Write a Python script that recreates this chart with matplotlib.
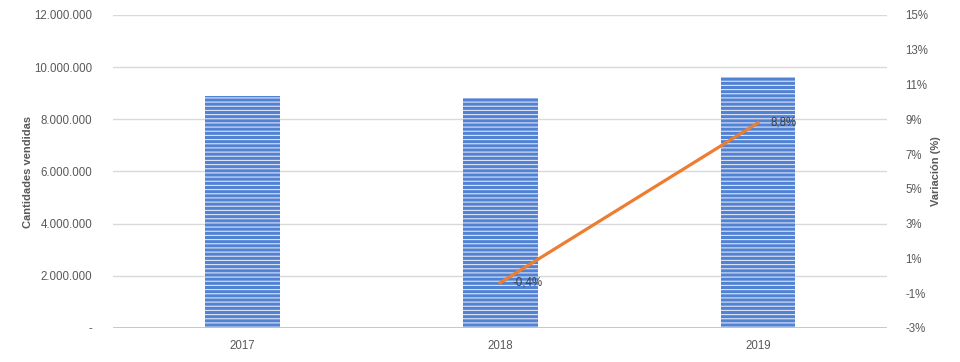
import matplotlib
matplotlib.use('Agg')
import matplotlib.pyplot as plt
from matplotlib.ticker import FuncFormatter, FixedLocator

# data
years = ['2017', '2018', '2019']
units_sold = [8890000, 8820000, 9620000]
change_years = ['2018', '2019']
change_pct = [-0.4, 8.8]

left_ticks = [0, 2000000, 4000000, 6000000, 8000000, 10000000, 12000000]
right_ticks = [-3, -1, 1, 3, 5, 7, 9, 11, 13, 15]

plt.rcParams['font.family'] = ['Liberation Sans', 'DejaVu Sans']
plt.rcParams['hatch.linewidth'] = 0.8

gray = '#595959'

fig = plt.figure(figsize=(9.6, 3.62), dpi=100)
ax = fig.add_axes([0.118, 0.094, 0.806, 0.8646])

x = list(range(len(years)))
ax.bar(x, units_sold, width=0.29, color='#5282d4', edgecolor='#dde5f5',
       linewidth=0, hatch='----', zorder=2)

ax.set_xlim(-0.5, len(years) - 0.5)
ax.set_ylim(0, 12000000)
ax.yaxis.set_major_locator(FixedLocator(left_ticks))
ax.yaxis.set_major_formatter(FuncFormatter(
    lambda v, p: '-' if v == 0 else f'{int(v):,}'.replace(',', '.')))
ax.set_xticks(x)
ax.set_xticklabels(years)
ax.grid(axis='y', color='#d9d9d9', linewidth=1, zorder=0)
ax.set_axisbelow(True)
for s in ax.spines.values():
    s.set_visible(False)
ax.axhline(0, color='#bfbfbf', linewidth=1.2, zorder=1)
ax.tick_params(length=0, labelsize=8.3, colors=gray)
ax.tick_params(axis='y', pad=15)
ax.tick_params(axis='x', pad=9)
ax.set_ylabel('Cantidades vendidas', fontsize=8, fontweight='bold', color=gray, labelpad=1)

ax2 = ax.twinx()
ax2.set_ylim(-3, 15)
ax2.yaxis.set_major_locator(FixedLocator(right_ticks))
ax2.yaxis.set_major_formatter(FuncFormatter(lambda v, p: f'{int(v)}%'))
for s in ax2.spines.values():
    s.set_visible(False)
ax2.tick_params(length=0, labelsize=8.3, colors=gray, pad=13)
ax2.set_ylabel('Variación (%)', fontsize=8, fontweight='bold', color=gray, labelpad=2)

lx = [years.index(y) for y in change_years]
ax2.plot(lx, change_pct, color='#ed7d31', linewidth=2.3, zorder=3)
for xi, v in zip(lx, change_pct):
    ax2.annotate(f'{v:.1f}%'.replace('.', ','), (xi, v), xytext=(9, 0),
                 textcoords='offset points', ha='left', va='center',
                 fontsize=8.3, color='#404040')

fig.savefig('out.png', dpi=100)
